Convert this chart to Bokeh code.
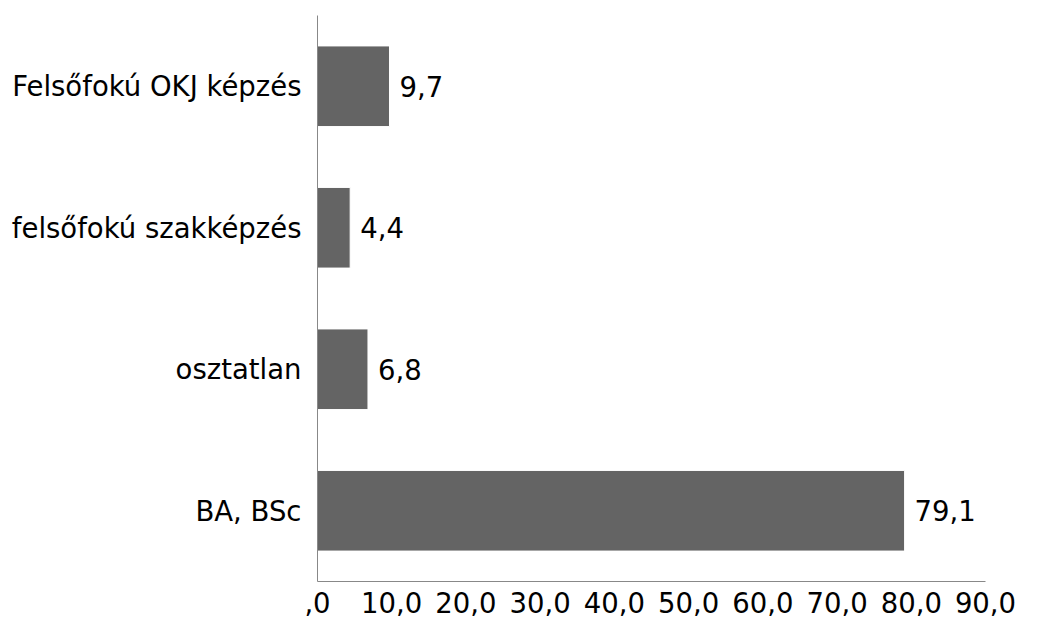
from bokeh.plotting import figure
from bokeh.models import ColumnDataSource, FixedTicker, Range1d, FactorRange
from bokeh.core.properties import value
from bokeh.embed import file_html
from bokeh.resources import INLINE

categories = ["Felsőfokú OKJ képzés", "felsőfokú szakképzés", "osztatlan", "BA, BSc"]
values = [9.7, 4.4, 6.8, 79.1]
x_ticks = [0, 10, 20, 30, 40, 50, 60, 70, 80, 90]
x_tick_labels = [",0", "10,0", "20,0", "30,0", "40,0", "50,0", "60,0", "70,0", "80,0", "90,0"]

FONT = "DejaVu Sans"
FS = "27.5px"

labels = [f"{v:.1f}".replace(".", ",") for v in values]
src = ColumnDataSource(dict(cat=categories, val=values, lab=labels))

p = figure(
    width=1021, height=623,
    y_range=FactorRange(*categories[::-1]),
    x_range=Range1d(0, 90),
    output_backend="svg", toolbar_location=None,
    min_border_left=317, min_border_right=36, min_border_top=15, min_border_bottom=42,
)

p.hbar(y="cat", right="val", height=0.57, source=src,
       fill_color="#646464", line_color="white", line_width=1)

p.text(x="val", y="cat", text="lab", source=src, x_offset=10,
       text_font=value(FONT), text_font_size=FS, text_baseline="middle",
       text_align="left", text_color="black")

p.xaxis.ticker = FixedTicker(ticks=x_ticks)
p.xaxis.major_label_overrides = {t: l for t, l in zip(x_ticks, x_tick_labels)}
for ax in (p.xaxis, p.yaxis):
    ax.major_label_text_font = FONT
    ax.major_label_text_font_size = FS
    ax.major_label_text_color = "black"
    ax.axis_line_color = "#888888"
    ax.axis_line_width = 1
    ax.major_tick_line_color = None
    ax.minor_tick_line_color = None
p.xaxis.major_label_standoff = 4
p.yaxis.major_label_standoff = 10

p.xgrid.grid_line_color = None
p.ygrid.grid_line_color = None
p.outline_line_color = None
p.background_fill_color = "white"
p.border_fill_color = "white"

open("out.html", "w").write(file_html(p, INLINE))
